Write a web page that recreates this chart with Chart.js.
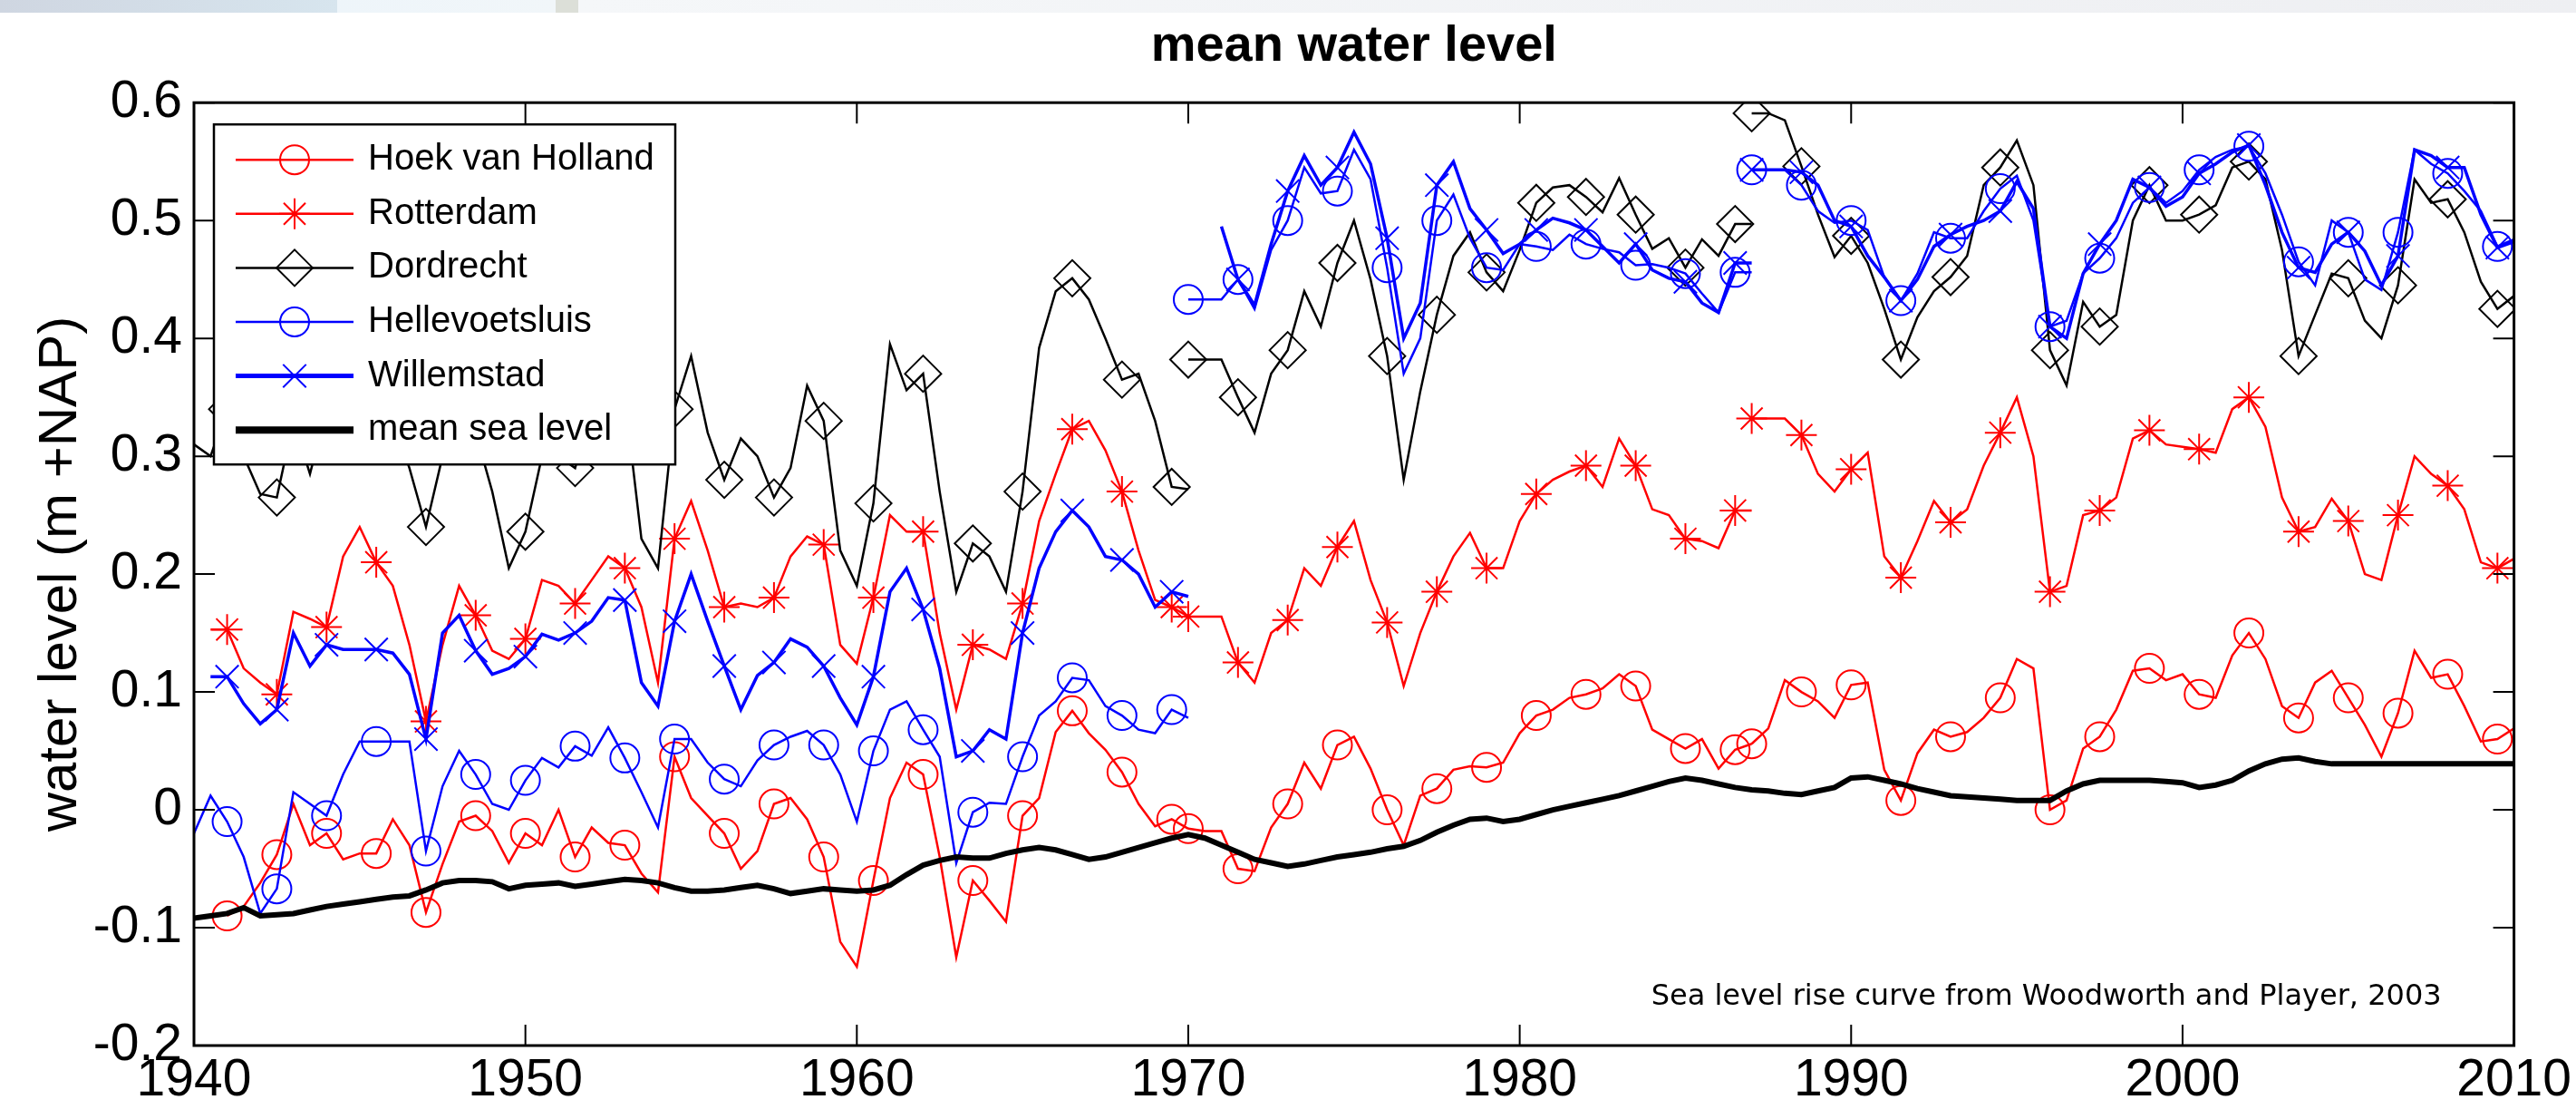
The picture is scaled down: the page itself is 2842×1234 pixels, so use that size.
<!DOCTYPE html>
<html lang="en">
<head>
<meta charset="UTF-8" />
<title>mean water level</title>
<script src="https://cdn.jsdelivr.net/npm/chart.js"></script>
<style>
    html, body { margin: 0; padding: 0; background: #fff; overflow: hidden; }
    #wrap { position: relative; width: 2842px; height: 1234px; }
    /* pale banner strip along the top of the original slide */
    #strip {
        position: absolute; left: 0; top: 0; width: 2842px; height: 14px;
        background: linear-gradient(to right,
            #cfd6e1 0px, #d7e5ee 372px, #eef5fa 372px, #f1f6f9 613px,
            #dcdfd8 613px, #dcdfd8 638px, #f5f7f9 638px, #eeeff2 2842px);
    }
</style>
</head>
<body>
<div id="wrap">
    <canvas id="chart" width="2842" height="1234"></canvas>
    <div id="strip"></div>
</div>

<script>
// half-year sampling grid used by all station series
function halfYears(from, to) {
    const out = [];
    for (let y = from; y <= to + 1e-9; y += 0.5) out.push(y);
    return out;
}
const yearsPre = halfYears(1940, 1970);   // before the Haringvliet closure
const yearsMid = halfYears(1970, 1987);
const yearsPost = halfYears(1987, 2010);
const mslYears = halfYears(1940, 2010);

const xTickValues = [1940, 1950, 1960, 1970, 1980, 1990, 2000, 2010];
const xTickLabels = ['1940', '1950', '1960', '1970', '1980', '1990', '2000', '2010'];
const yTickValues = [-0.2, -0.1, 0, 0.1, 0.2, 0.3, 0.4, 0.5, 0.6];
const yTickLabels = ['-0.2', '-0.1', '0', '0.1', '0.2', '0.3', '0.4', '0.5', '0.6'];

// Hoek van Holland (m +NAP)
const hoekPre = [null, null, -0.090, -0.082, -0.062, -0.038, 0.005, -0.030, -0.020, -0.042,
    -0.037, -0.037, -0.008, -0.030, -0.087, -0.046, -0.010, -0.005, -0.018, -0.045,
    -0.020, -0.030, 0.000, -0.040, -0.015, -0.028, -0.030, -0.054, -0.070, 0.045,
    0.010, -0.005, -0.020, -0.050, -0.035, 0.005, 0.010, -0.008, -0.040, -0.112,
    -0.133, -0.060, 0.010, 0.040, 0.030, -0.040, -0.125, -0.060, -0.077, -0.095,
    -0.005, 0.010, 0.066, 0.084, 0.065, 0.051, 0.032, 0.005, -0.014, -0.008, -0.016];
const hoekMid = [-0.016, -0.018, -0.018, -0.050, -0.052, -0.015, 0.005, 0.040, 0.018, 0.055,
    0.062, 0.035, 0.000, -0.030, 0.012, 0.018, 0.034, 0.037, 0.036, 0.040,
    0.065, 0.080, 0.085, 0.095, 0.098, 0.103, 0.115, 0.105, 0.068, 0.060,
    0.052, 0.060, 0.035, 0.051, 0.056];
const hoekPost = [0.056, 0.069, 0.110, 0.100, 0.092, 0.078, 0.106, 0.108, 0.034, 0.008,
    0.048, 0.068, 0.062, 0.066, 0.078, 0.095, 0.128, 0.120, 0.000, 0.008,
    0.052, 0.062, 0.085, 0.118, 0.120, 0.110, 0.115, 0.098, 0.095, 0.131,
    0.150, 0.128, 0.088, 0.078, 0.108, 0.118, 0.095, 0.072, 0.045, 0.082,
    0.135, 0.112, 0.115, 0.088, 0.058, 0.060, 0.069];

// Rotterdam
const rotPre = [null, 0.153, 0.153, 0.120, 0.108, 0.098, 0.168, 0.162, 0.155, 0.215,
    0.240, 0.210, 0.190, 0.140, 0.075, 0.140, 0.190, 0.165, 0.135, 0.128,
    0.145, 0.195, 0.190, 0.175, 0.195, 0.215, 0.205, 0.172, 0.108, 0.230,
    0.262, 0.220, 0.172, 0.175, 0.172, 0.180, 0.215, 0.232, 0.225, 0.140,
    0.124, 0.180, 0.250, 0.236, 0.236, 0.150, 0.085, 0.140, 0.136, 0.128,
    0.175, 0.245, 0.285, 0.323, 0.330, 0.305, 0.270, 0.220, 0.178, 0.172, 0.164];
const rotMid = [0.164, 0.164, 0.164, 0.125, 0.108, 0.150, 0.161, 0.205, 0.190, 0.223,
    0.245, 0.195, 0.159, 0.105, 0.150, 0.185, 0.215, 0.235, 0.205, 0.205,
    0.245, 0.268, 0.280, 0.287, 0.292, 0.274, 0.315, 0.292, 0.255, 0.250,
    0.230, 0.228, 0.222, 0.254, 0.254];
const rotPost = [0.332, 0.332, 0.332, 0.318, 0.285, 0.270, 0.289, 0.303, 0.215, 0.197,
    0.228, 0.262, 0.244, 0.255, 0.292, 0.320, 0.350, 0.300, 0.185, 0.190,
    0.250, 0.254, 0.265, 0.315, 0.322, 0.310, 0.308, 0.306, 0.303, 0.340,
    0.350, 0.325, 0.265, 0.236, 0.240, 0.264, 0.245, 0.200, 0.195, 0.250,
    0.300, 0.285, 0.275, 0.255, 0.210, 0.205, 0.213];

// Dordrecht
const dorPre = [0.310, 0.300, 0.340, 0.300, 0.268, 0.265, 0.330, 0.285, 0.340, 0.370,
    0.380, 0.360, 0.330, 0.290, 0.240, 0.300, 0.360, 0.320, 0.270, 0.205,
    0.236, 0.300, 0.300, 0.290, 0.340, 0.370, 0.350, 0.230, 0.205, 0.340,
    0.385, 0.320, 0.280, 0.315, 0.300, 0.265, 0.290, 0.360, 0.330, 0.220,
    0.190, 0.260, 0.395, 0.356, 0.370, 0.270, 0.185, 0.226, 0.215, 0.185,
    0.270, 0.392, 0.440, 0.451, 0.433, 0.400, 0.365, 0.370, 0.330, 0.274, 0.272];
const dorMid = [0.382, 0.382, 0.382, 0.350, 0.320, 0.370, 0.390, 0.440, 0.410, 0.464,
    0.500, 0.450, 0.385, 0.280, 0.355, 0.420, 0.470, 0.490, 0.456, 0.440,
    0.475, 0.515, 0.528, 0.530, 0.520, 0.507, 0.536, 0.505, 0.476, 0.485,
    0.460, 0.484, 0.470, 0.497, 0.497];
const dorPost = [0.591, 0.591, 0.585, 0.546, 0.505, 0.469, 0.487, 0.464, 0.425, 0.382,
    0.418, 0.440, 0.452, 0.470, 0.530, 0.545, 0.568, 0.530, 0.390, 0.360,
    0.431, 0.410, 0.420, 0.500, 0.530, 0.500, 0.500, 0.505, 0.513, 0.545,
    0.550, 0.535, 0.475, 0.385, 0.420, 0.455, 0.451, 0.415, 0.400, 0.445,
    0.535, 0.515, 0.518, 0.490, 0.448, 0.425, 0.436];

// Hellevoetsluis
const helPre = [-0.020, 0.012, -0.010, -0.040, -0.088, -0.067, 0.015, 0.005, -0.005, 0.030,
    0.058, 0.058, 0.058, 0.058, -0.035, 0.020, 0.050, 0.030, 0.005, 0.000,
    0.025, 0.044, 0.036, 0.054, 0.046, 0.070, 0.044, 0.015, -0.015, 0.060,
    0.060, 0.040, 0.026, 0.020, 0.042, 0.055, 0.062, 0.067, 0.055, 0.030,
    -0.010, 0.050, 0.085, 0.092, 0.068, 0.045, -0.045, -0.002, 0.006, 0.005,
    0.045, 0.080, 0.092, 0.112, 0.110, 0.088, 0.080, 0.068, 0.065, 0.085, 0.078];
const helMid = [0.433, 0.433, 0.433, 0.450, 0.425, 0.475, 0.500, 0.545, 0.523, 0.525,
    0.560, 0.535, 0.460, 0.370, 0.400, 0.500, 0.522, 0.485, 0.460, 0.458,
    0.480, 0.478, 0.475, 0.488, 0.480, 0.476, 0.473, 0.462, 0.463, 0.460,
    0.455, 0.438, 0.422, 0.456, 0.456];
const helPost = [0.543, 0.543, 0.543, 0.530, 0.508, 0.498, 0.500, 0.492, 0.452, 0.432,
    0.455, 0.490, 0.485, 0.485, 0.508, 0.527, 0.538, 0.500, 0.410, 0.415,
    0.455, 0.468, 0.485, 0.515, 0.528, 0.515, 0.525, 0.543, 0.554, 0.560,
    0.563, 0.540, 0.505, 0.465, 0.445, 0.500, 0.490, 0.450, 0.441, 0.490,
    0.560, 0.548, 0.540, 0.525, 0.508, 0.478, 0.484];

// Willemstad
const wilPre = [null, 0.113, 0.113, 0.090, 0.073, 0.085, 0.150, 0.122, 0.140, 0.136,
    0.136, 0.136, 0.133, 0.115, 0.060, 0.150, 0.165, 0.135, 0.115, 0.120,
    0.130, 0.149, 0.144, 0.150, 0.160, 0.180, 0.178, 0.108, 0.088, 0.160,
    0.200, 0.160, 0.122, 0.085, 0.114, 0.125, 0.145, 0.138, 0.122, 0.095,
    0.072, 0.113, 0.185, 0.205, 0.170, 0.120, 0.045, 0.050, 0.068, 0.060,
    0.150, 0.205, 0.236, 0.254, 0.240, 0.215, 0.212, 0.200, 0.172, 0.185, 0.181];
const wilMid = [null, null, 0.495, 0.450, 0.428, 0.480, 0.525, 0.555, 0.530, 0.545,
    0.575, 0.548, 0.485, 0.400, 0.430, 0.530, 0.550, 0.510, 0.492, 0.472,
    0.480, 0.492, 0.502, 0.498, 0.492, 0.478, 0.464, 0.480, 0.458, 0.451,
    0.448, 0.430, 0.422, 0.464, 0.464];
const wilPost = [0.543, 0.543, 0.543, 0.541, 0.530, 0.500, 0.495, 0.470, 0.452, 0.432,
    0.450, 0.478, 0.488, 0.495, 0.500, 0.508, 0.533, 0.510, 0.410, 0.400,
    0.455, 0.480, 0.500, 0.535, 0.528, 0.512, 0.520, 0.540, 0.548, 0.558,
    0.564, 0.530, 0.490, 0.460, 0.456, 0.480, 0.490, 0.474, 0.445, 0.470,
    0.560, 0.555, 0.545, 0.545, 0.505, 0.477, 0.482];

// mean sea level (Woodworth and Player, 2003)
const msl = [-0.092, -0.090, -0.088, -0.083, -0.090, -0.089, -0.088, -0.085, -0.082, -0.080,
    -0.078, -0.076, -0.074, -0.073, -0.068, -0.062, -0.060, -0.060, -0.061, -0.067,
    -0.064, -0.063, -0.062, -0.065, -0.063, -0.061, -0.059, -0.060, -0.062, -0.066,
    -0.069, -0.069, -0.068, -0.066, -0.064, -0.067, -0.071, -0.069, -0.067, -0.068,
    -0.069, -0.068, -0.064, -0.055, -0.047, -0.043, -0.040, -0.041, -0.041, -0.037,
    -0.034, -0.032, -0.034, -0.038, -0.042, -0.040, -0.036, -0.032, -0.028, -0.024,
    -0.021, -0.024, -0.030, -0.036, -0.042, -0.045, -0.048, -0.046, -0.043, -0.040,
    -0.038, -0.036, -0.033, -0.031, -0.026, -0.019, -0.013, -0.008, -0.007, -0.010,
    -0.008, -0.004, 0.000, 0.003, 0.006, 0.009, 0.012, 0.016, 0.020, 0.024,
    0.027, 0.025, 0.022, 0.019, 0.017, 0.016, 0.014, 0.013, 0.016, 0.019,
    0.027, 0.028, 0.025, 0.022, 0.018, 0.015, 0.012, 0.011, 0.010, 0.009,
    0.008, 0.008, 0.008, 0.016, 0.022, 0.025, 0.025, 0.025, 0.025, 0.024,
    0.023, 0.019, 0.021, 0.025, 0.033, 0.039, 0.043, 0.044, 0.041, 0.039,
    0.039, 0.039, 0.039, 0.039, 0.039, 0.039, 0.039, 0.039, 0.039, 0.039, 0.039];

const FONT = "'Liberation Sans', Arial, sans-serif";
Chart.defaults.font.family = FONT;
Chart.defaults.color = '#000';

// join the three record pieces, with a break at each datum change
// m marks every third sample for a marker, like the original plot
function stationPoints(pre, mid, post) {
    const pts = [];
    const add = (years, vals, seg) => years.forEach((x, i) => {
        const y = vals[i];
        pts.push({ x: x, y: y, m: y !== null && i % 3 === (seg === 0 ? 2 : 0) });
    });
    add(yearsPre, pre, 0);
    pts.push({ x: 1970, y: null, m: false });
    add(yearsMid, mid, 1);
    pts.push({ x: 1987, y: null, m: false });
    add(yearsPost, post, 2);
    return pts;
}

const stations = [
    { label: 'Hoek van Holland', color: '#ff0000', style: 'circle', radius: 16, width: 2.5, order: 5,
      data: stationPoints(hoekPre, hoekMid, hoekPost) },
    { label: 'Rotterdam', color: '#ff0000', style: 'star', radius: 17, width: 2.5, order: 4,
      data: stationPoints(rotPre, rotMid, rotPost) },
    { label: 'Dordrecht', color: '#000000', style: 'rectRot', radius: 20, width: 2.5, order: 3,
      data: stationPoints(dorPre, dorMid, dorPost) },
    { label: 'Hellevoetsluis', color: '#0000ff', style: 'circle', radius: 16, width: 2.5, order: 2,
      data: stationPoints(helPre, helMid, helPost) },
    { label: 'Willemstad', color: '#0000ff', style: 'crossRot', radius: 18, width: 3.5, order: 1,
      data: stationPoints(wilPre, wilMid, wilPost) }
];

const datasets = stations.map(s => ({
    label: s.label,
    data: s.data,
    borderColor: s.color,
    borderWidth: s.width,
    tension: 0,
    fill: false,
    spanGaps: false,
    order: s.order,
    pointStyle: s.style,
    pointRadius: c => (c.raw && c.raw.m ? s.radius : 0),
    pointBorderColor: s.color,
    pointBackgroundColor: 'rgba(0,0,0,0)',
    pointBorderWidth: 2
}));
datasets.push({
    label: 'mean sea level',
    data: mslYears.map((x, i) => ({ x: x, y: msl[i] })),
    borderColor: '#000000',
    borderWidth: 6,
    tension: 0,
    fill: false,
    pointRadius: 0,
    order: 0
});

function drawMarker(ctx, style, r, x, y) {
    if (Chart.helpers && Chart.helpers.drawPoint) {
        Chart.helpers.drawPoint(ctx, { pointStyle: style, radius: r, borderWidth: 2, rotation: 0 }, x, y);
        return;
    }
    ctx.beginPath();
    ctx.arc(x, y, r, 0, Math.PI * 2);
    ctx.stroke();
}

// MATLAB style legend box sitting inside the axes
const legendBox = {
    id: 'legendBox',
    afterDatasetsDraw(chart) {
        const { ctx, chartArea: a } = chart;
        const x0 = a.left + 22, y0 = a.top + 24, w = 509, h = 375;
        ctx.save();
        ctx.fillStyle = '#fff';
        ctx.fillRect(x0, y0, w, h);
        ctx.lineWidth = 2.5;
        ctx.strokeStyle = '#000';
        ctx.strokeRect(x0, y0, w, h);

        const rows = stations.map(s => ({ label: s.label, color: s.color, style: s.style, radius: s.radius, lw: s.width > 3 ? 5 : 2.5 }));
        rows.push({ label: 'mean sea level', color: '#000', style: null, lw: 8 });

        ctx.font = '40px ' + FONT;
        ctx.textBaseline = 'middle';
        ctx.textAlign = 'left';
        rows.forEach((r, i) => {
            const y = y0 + 39 + i * 59.6;
            ctx.strokeStyle = r.color;
            ctx.lineWidth = r.lw;
            ctx.beginPath();
            ctx.moveTo(x0 + 24, y);
            ctx.lineTo(x0 + 154, y);
            ctx.stroke();
            if (r.style) {
                ctx.lineWidth = 2;
                ctx.fillStyle = 'rgba(0,0,0,0)';
                drawMarker(ctx, r.style, r.radius, x0 + 89, y);
            }
            ctx.fillStyle = '#000';
            ctx.fillText(r.label, x0 + 170, y);
        });
        ctx.restore();
    }
};

// box round the axes with inward ticks on all four sides, plus the source note
const frame = {
    id: 'frame',
    afterDraw(chart) {
        const { ctx, chartArea: a, scales } = chart;
        const tl = 23;
        ctx.save();
        ctx.strokeStyle = '#000';
        ctx.lineWidth = 2;
        ctx.beginPath();
        scales.x.ticks.forEach(t => {
            const px = scales.x.getPixelForValue(t.value);
            ctx.moveTo(px, a.bottom); ctx.lineTo(px, a.bottom - tl);
            ctx.moveTo(px, a.top); ctx.lineTo(px, a.top + tl);
        });
        scales.y.ticks.forEach(t => {
            const py = scales.y.getPixelForValue(t.value);
            ctx.moveTo(a.left, py); ctx.lineTo(a.left + tl, py);
            ctx.moveTo(a.right, py); ctx.lineTo(a.right - tl, py);
        });
        ctx.stroke();
        ctx.lineWidth = 3;
        ctx.strokeRect(a.left, a.top, a.right - a.left, a.bottom - a.top);

        ctx.fillStyle = '#000';
        ctx.font = "32px 'DejaVu Sans', Verdana, sans-serif";
        ctx.textAlign = 'right';
        ctx.textBaseline = 'alphabetic';
        ctx.fillText('Sea level rise curve from Woodworth and Player, 2003', a.right - 80, a.bottom - 45);
        ctx.restore();
    }
};

new Chart(document.getElementById('chart'), {
    type: 'line',
    data: { datasets: datasets },
    options: {
        responsive: false,
        animation: false,
        devicePixelRatio: 1,
        layout: { padding: { left: 0, right: 66, top: 0, bottom: 0 } },
        plugins: {
            legend: { display: false },
            tooltip: { enabled: false },
            title: {
                display: true,
                text: 'mean water level',
                color: '#000',
                fullSize: false,
                font: { family: FONT, size: 56, weight: 'bold' },
                padding: { top: 18, bottom: 28 }
            }
        },
        scales: {
            x: {
                type: 'linear',
                min: 1940,
                max: 2010,
                grid: { display: false, drawTicks: false },
                border: { display: false },
                afterBuildTicks: s => { s.ticks = xTickValues.map(v => ({ value: v })); },
                afterFit: s => { s.height = 81; },
                ticks: {
                    font: { size: 57 },
                    color: '#000',
                    padding: 5,
                    maxRotation: 0,
                    autoSkip: false,
                    callback: (v, i) => xTickLabels[i]
                }
            },
            y: {
                type: 'linear',
                min: -0.2,
                max: 0.6,
                grid: { display: false, drawTicks: false },
                border: { display: false },
                afterBuildTicks: s => { s.ticks = yTickValues.map(v => ({ value: v })); },
                afterFit: s => { s.width = 214; },
                ticks: {
                    font: { size: 57 },
                    color: '#000',
                    padding: 13,
                    autoSkip: false,
                    callback: (v, i) => yTickLabels[i]
                },
                title: {
                    display: true,
                    text: 'water level (m +NAP)',
                    color: '#000',
                    font: { size: 60 },
                    padding: { top: 31, bottom: 0 }
                }
            }
        }
    },
    plugins: [legendBox, frame]
});
</script>
</body>
</html>
